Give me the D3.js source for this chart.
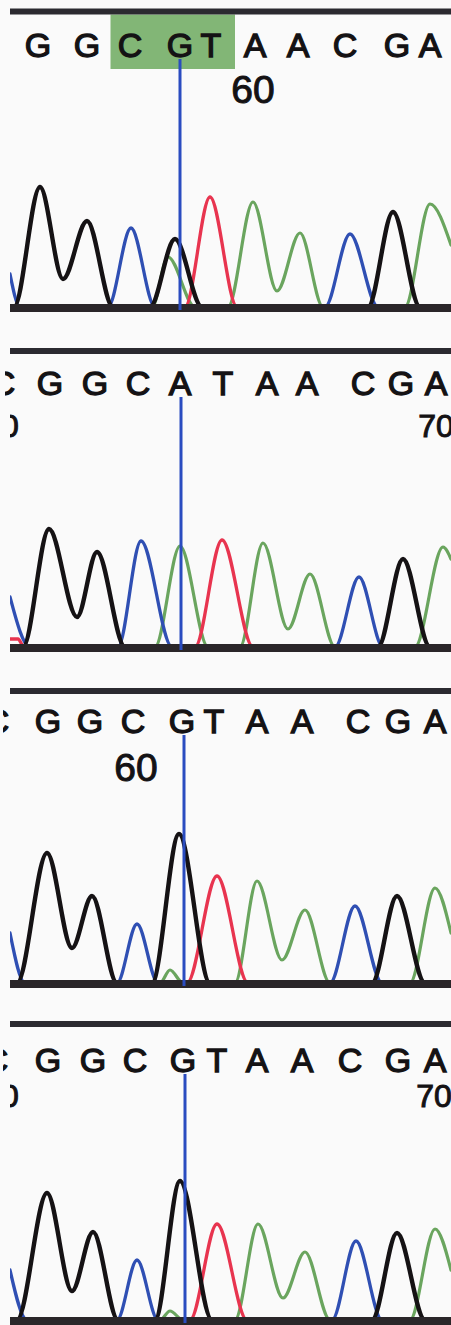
<!DOCTYPE html>
<html><head><meta charset="utf-8">
<script src="https://cdn.jsdelivr.net/npm/d3@7"></script>
<style>
html,body{margin:0;padding:0;background:#fafafa;}
svg{display:block;}
text{font-family:"Liberation Sans",Arial,Helvetica,sans-serif;}
</style></head>
<body>
<script>
// ---------- DATA (scan position, intensity) ----------
// Base calls per panel
const p1Bases = ["G","G","C","G","T","A","A","C","G","A"];
const p1BasePos = [38,87,130,180,211,255,298,345,397,430];
const p2Bases = ["C","G","G","C","A","T","A","A","C","G","A"];
const p2BasePos = [3,50,95,138,180,223,267,307,363,401,436];
const p3Bases = ["C","G","G","C","G","T","A","A","C","G","A"];
const p3BasePos = [-3,48,90,133,182,214,257,302,358,398,435];
const p4Bases = ["C","G","G","C","G","T","A","A","C","G","A"];
const p4BasePos = [-4,48,93,135,183,217,257,302,350,398,435];

// Position numbers
const p1Nums = ["60"];      const p1NumPos = [253];
const p2Nums = ["50","70"]; const p2NumPos = [1,436];
const p3Nums = ["60"];      const p3NumPos = [136];
const p4Nums = ["50","70"]; const p4NumPos = [1,434];

// Cursor (scan position) per panel
const cursorPos = [180,181,184,185];
// Highlighted base indices (panel 1 only)
const p1Highlight = [2,4];

// Traces: A = green, C = blue, G = black, T = red
const p1A = [[10,0],[152,0],[168,50],[195,0],[228,0],[253,105],[277,16],[300,74],[323,0],[405,0],[430,103],[451,62]];
const p1C = [[10,33],[20,0],[108,0],[131,79],[155,0],[325,0],[350,73],[378,0],[451,0]];
const p1G = [[10,0],[14,0],[40,120],[63,28],[87,86],[113,0],[150,0],[175,68],[202,0],[368,0],[393,95],[420,0],[451,0]];
const p1T = [[10,0],[185,0],[210,110],[237,0],[451,0]];

const p2A = [[10,0],[155,0],[180,101],[208,0],[240,0],[263,104],[288,18],[310,73],[335,0],[415,0],[443,100],[451,88]];
const p2C = [[10,50],[30,0],[118,0],[141,106],[172,0],[335,0],[359,70],[383,0],[451,0]];
const p2G = [[10,0],[23,0],[49,118],[77,30],[97,95],[125,0],[378,0],[403,88],[430,0],[451,0]];
const p2T = [[10,8],[18,8],[24,0],[195,0],[222,107],[253,0],[451,0]];

const p3A = [[10,0],[160,0],[170,13],[183,0],[235,0],[257,102],[282,23],[305,73],[330,0],[410,0],[435,95],[451,50]];
const p3C = [[10,50],[25,0],[117,0],[137,59],[158,0],[330,0],[355,77],[382,0],[451,0]];
const p3G = [[10,0],[17,0],[47,130],[72,35],[92,87],[117,0],[152,0],[179,149],[210,0],[372,0],[397,87],[425,0],[451,0]];
const p3T = [[10,0],[187,0],[217,107],[248,0],[451,0]];

const p4A = [[10,0],[160,0],[170,9],[183,0],[235,0],[258,96],[283,22],[305,68],[330,0],[410,0],[435,91],[451,50]];
const p4C = [[10,50],[27,0],[117,0],[137,60],[158,0],[332,0],[356,79],[382,0],[451,0]];
const p4G = [[10,0],[17,0],[47,127],[72,29],[93,88],[118,0],[155,0],[180,139],[212,0],[372,0],[397,87],[425,0],[451,0]];
const p4T = [[10,0],[190,0],[217,96],[247,0],[451,0]];

// ---------- LAYOUT ----------
const W = 451, H = 1325;
const panels = [
  {bases:p1Bases,pos:p1BasePos,nums:p1Nums,numPos:p1NumPos,A:p1A,C:p1C,G:p1G,T:p1T,
   top:11.5,letterY:57,numY:103,numSize:39,bar:308,letterClip:10,hl:p1Highlight},
  {bases:p2Bases,pos:p2BasePos,nums:p2Nums,numPos:p2NumPos,A:p2A,C:p2C,G:p2G,T:p2T,
   top:351,letterY:395,numY:437,numSize:32,bar:648,letterClip:5,hl:null},
  {bases:p3Bases,pos:p3BasePos,nums:p3Nums,numPos:p3NumPos,A:p3A,C:p3C,G:p3G,T:p3T,
   top:691,letterY:733,numY:781,numSize:39,bar:984,letterClip:3,hl:null},
  {bases:p4Bases,pos:p4BasePos,nums:p4Nums,numPos:p4NumPos,A:p4A,C:p4C,G:p4G,T:p4T,
   top:1024,letterY:1072,numY:1107,numSize:32,bar:1321,letterClip:3,hl:null}
];
const colors = {A:"#6aa55e", C:"#2f4fb3", G:"#151214", T:"#e8344f"};
const widths = {A:3.2, C:3.3, G:4.4, T:3.3};

const x = d3.scaleLinear().domain([0,451]).range([0,W]);

const svg = d3.select("body").append("svg").attr("width",W).attr("height",H);
const defs = svg.append("defs");

panels.forEach((p,i)=>{
  const base = p.bar - 1;
  const y = d3.scaleLinear().domain([0,150]).range([base, base-150]);
  const g = svg.append("g");

  // clip paths
  defs.append("clipPath").attr("id","lc"+i).append("rect")
    .attr("x",p.letterClip).attr("y",p.top).attr("width",W-p.letterClip).attr("height",p.bar-p.top);
  defs.append("clipPath").attr("id","nc"+i).append("rect")
    .attr("x",10).attr("y",p.top).attr("width",W-10).attr("height",p.bar-p.top);

  // highlight
  if (p.hl) {
    const a = p.hl[0], b = p.hl[1];
    const x0 = x((p.pos[a-1]+p.pos[a])/2)+2, x1 = x((p.pos[b]+p.pos[b+1])/2)+2;
    g.append("rect").attr("x",x0).attr("y",p.top+3).attr("width",x1-x0)
      .attr("height",p.letterY+12-(p.top+3)).attr("fill","#82b676");
  }

  // letters
  g.append("g").attr("clip-path","url(#lc"+i+")")
    .selectAll("text").data(p.bases).join("text")
    .attr("x",(d,j)=>x(p.pos[j])).attr("y",p.letterY)
    .attr("text-anchor","middle").attr("font-size",34)
    .attr("fill","#141214").attr("stroke","#141214").attr("stroke-width",1.3)
    .text(d=>d);

  // numbers
  g.append("g").attr("clip-path","url(#nc"+i+")")
    .selectAll("text").data(p.nums).join("text")
    .attr("x",(d,j)=>x(p.numPos[j])).attr("y",p.numY)
    .attr("text-anchor","middle").attr("font-size",p.numSize)
    .attr("fill","#141214").attr("stroke","#141214").attr("stroke-width",1)
    .text(d=>d);

  // traces
  const line = d3.line().x(d=>x(d[0])).y(d=>y(d[1])).curve(d3.curveMonotoneX);
  const tg = g.append("g").attr("clip-path","url(#nc"+i+")");
  ["A","C","T","G"].forEach(k=>{
    tg.append("path").datum(p[k]).attr("d",line)
      .attr("fill","none").attr("stroke",colors[k]).attr("stroke-width",widths[k])
      .attr("stroke-linejoin","round").attr("stroke-linecap","round");
  });

  // top bar & baseline bar
  g.append("line").attr("x1",10).attr("x2",W).attr("y1",p.top).attr("y2",p.top)
    .attr("stroke","#2b2a30").attr("stroke-width",6);
  g.append("line").attr("x1",10).attr("x2",W).attr("y1",p.bar).attr("y2",p.bar)
    .attr("stroke","#2a2629").attr("stroke-width",8);

  // cursor
  g.append("line").attr("x1",x(cursorPos[i])).attr("x2",x(cursorPos[i]))
    .attr("y1",p.letterY+2).attr("y2",p.bar+2)
    .attr("stroke","#2a4cc0").attr("stroke-width",3);
});
</script>
</body></html>
